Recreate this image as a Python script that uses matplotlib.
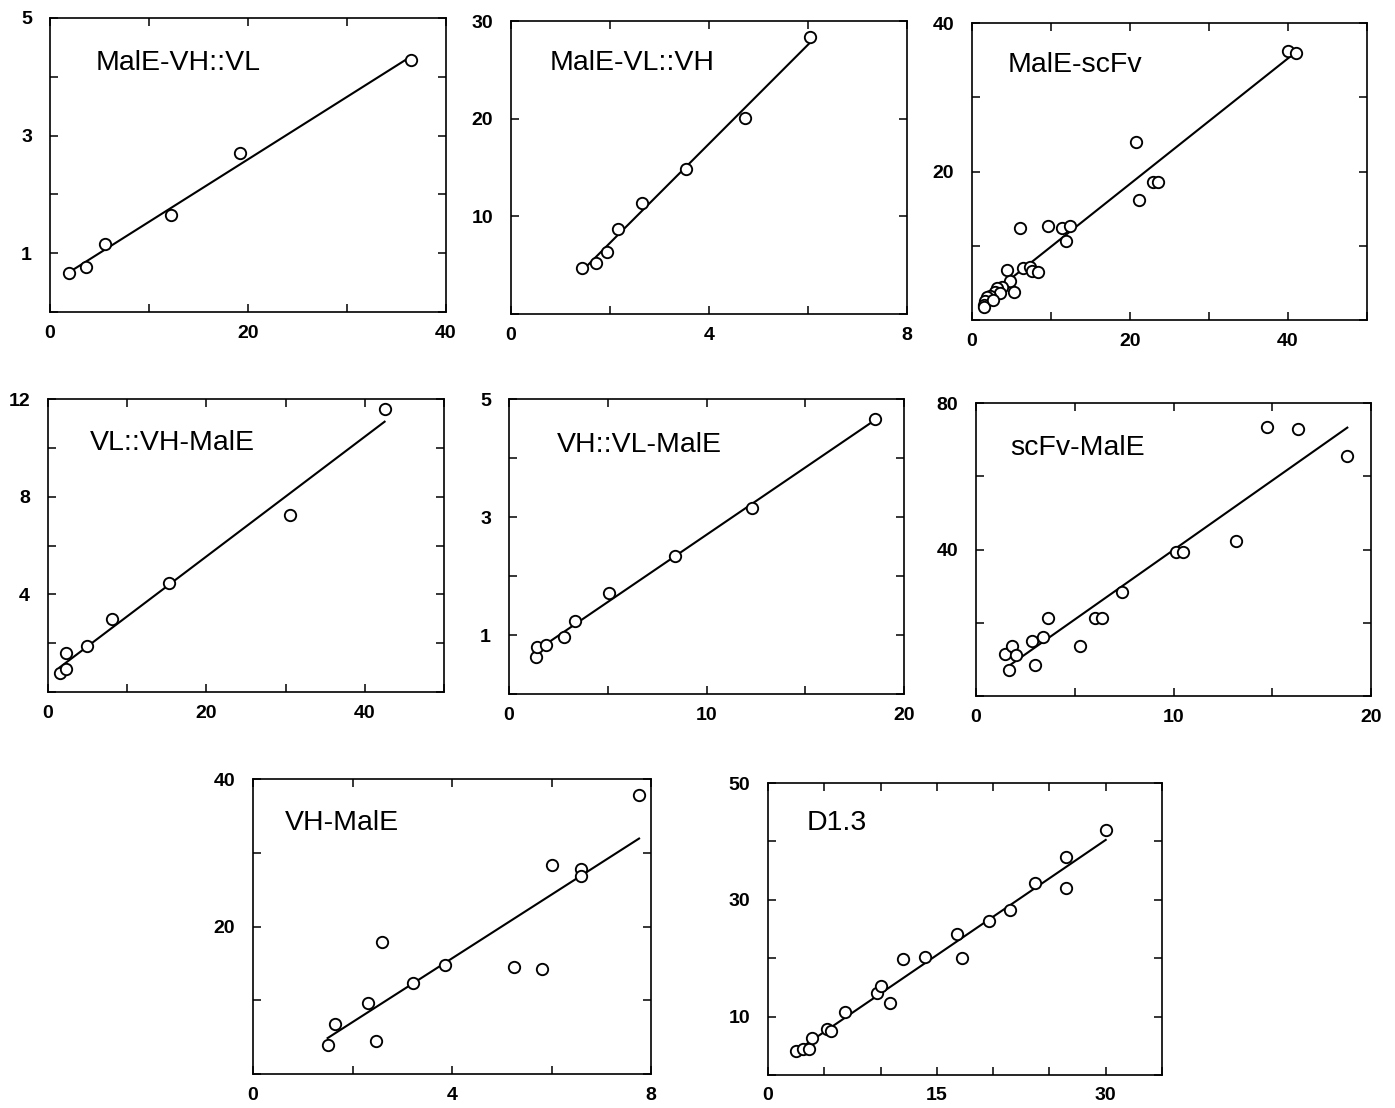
import numpy as np
import matplotlib
matplotlib.use("Agg")
import matplotlib.pyplot as plt

plt.rcParams['font.family'] = ['Liberation Sans', 'DejaVu Sans']

W, H = 1395, 1108

# ---------------- data ----------------
titles = ["MalE-VH::VL", "MalE-VL::VH", "MalE-scFv",
          "VL::VH-MalE", "VH::VL-MalE", "scFv-MalE",
          "VH-MalE", "D1.3"]

p1_x = [1.9, 3.6, 5.6, 12.2, 19.2, 36.5]
p1_y = [0.66, 0.77, 1.15, 1.65, 2.71, 4.28]

p2_x = [1.44, 1.71, 1.93, 2.17, 2.65, 3.53, 4.72, 6.05]
p2_y = [4.75, 5.26, 6.38, 8.75, 11.36, 14.85, 20.1, 28.4]

p3_x = [39.96, 41.05, 20.8, 21.1, 22.9, 23.5, 6.1, 9.6, 11.4, 12.4, 11.9,
        4.4, 6.5, 7.4, 7.6, 8.4, 4.8, 5.3, 3.8, 3.2, 2.9, 3.6, 2.3, 1.9,
        1.7, 1.5, 1.55, 2.7]
p3_y = [36.2, 36.0, 24.0, 16.2, 18.65, 18.65, 12.4, 12.7, 12.4, 12.7, 10.6,
        6.8, 7.0, 7.2, 6.6, 6.5, 5.2, 3.8, 4.5, 4.3, 3.8, 3.7, 3.2, 3.1,
        2.6, 2.0, 1.7, 2.7]

p4_x = [1.47, 2.3, 2.3, 4.9, 8.05, 15.3, 30.5, 42.5]
p4_y = [0.76, 0.94, 1.58, 1.9, 2.98, 4.48, 7.25, 11.6]

p5_x = [1.35, 1.40, 1.86, 2.81, 3.35, 5.08, 8.43, 12.3, 18.55]
p5_y = [0.63, 0.80, 0.83, 0.97, 1.23, 1.72, 2.34, 3.16, 4.66]

p6_x = [1.46, 1.84, 2.0, 1.67, 2.85, 3.0, 3.38, 3.64, 5.25, 6.05, 6.38,
        7.39, 10.13, 10.5, 13.17, 14.75, 16.28, 18.8]
p6_y = [11.4, 13.6, 11.2, 7.1, 15.1, 8.5, 16.2, 21.4, 13.7, 21.4, 21.2,
        28.5, 39.4, 39.4, 42.4, 73.5, 72.8, 65.5]

p7_x = [1.50, 1.65, 2.32, 2.48, 2.59, 3.21, 3.85, 5.24, 5.80, 6.01, 6.60,
        6.60, 7.76]
p7_y = [3.95, 6.8, 9.6, 4.5, 17.95, 12.3, 14.8, 14.5, 14.2, 28.3, 27.8,
        26.9, 37.8]

p8_x = [2.45, 3.13, 3.63, 3.93, 5.26, 5.6, 6.8, 9.7, 10.06, 10.8, 11.98,
        13.95, 16.8, 17.2, 19.65, 21.5, 23.75, 26.5, 26.5, 30.0]
p8_y = [4.05, 4.5, 4.5, 6.3, 7.9, 7.45, 10.85, 14.0, 15.3, 12.3, 19.8,
        20.2, 24.2, 19.97, 26.3, 28.3, 32.8, 37.4, 32.1, 41.9]

xs = [p1_x, p2_x, p3_x, p4_x, p5_x, p6_x, p7_x, p8_x]
ys = [p1_y, p2_y, p3_y, p4_y, p5_y, p6_y, p7_y, p8_y]

# axis limits, tick positions and labelled ticks
xlims = [(0, 40), (0, 8), (0, 50), (0, 50), (0, 20), (0, 20), (0, 8), (0, 35)]
ylims = [(0, 5), (0, 30), (0, 40), (0, 12), (0, 5), (0, 80), (0, 40), (0, 50)]
xtick_step = [10, 2, 10, 10, 5, 5, 2, 5]
ytick_step = [1, 10, 10, 2, 1, 20, 10, 10]
xtick_labels = [[0, 20, 40], [0, 4, 8], [0, 20, 40], [0, 20, 40],
                [0, 10, 20], [0, 10, 20], [0, 4, 8], [0, 15, 30]]
ytick_labels = [[1, 3, 5], [10, 20, 30], [20, 40], [4, 8, 12],
                [1, 3, 5], [40, 80], [20, 40], [10, 30, 50]]

# ---------------- layout (pixels: left, top, right, bottom) ----------------
boxes = [(50, 18, 446, 312), (511, 21, 907, 314), (972, 23, 1367, 320),
         (48, 399, 444, 692), (509, 399, 904, 694), (976, 403, 1371, 696),
         (253, 779, 651, 1074), (768, 783, 1162, 1075)]
title_pos = [(0.114, 0.847), (0.098, 0.857), (0.091, 0.86), (0.106, 0.85),
             (0.12, 0.844), (0.086, 0.846), (0.08, 0.85), (0.098, 0.863)]

fig = plt.figure(figsize=(W / 100, H / 100), dpi=100)

for i in range(8):
    l, t, r, b = boxes[i]
    ax = fig.add_axes([l / W, 1 - b / H, (r - l) / W, (b - t) / H])
    x = np.array(xs[i])
    y = np.array(ys[i])
    k, c = np.polyfit(x, y, 1)
    xl = np.array([x.min(), x.max()])
    ax.plot(xl, k * xl + c, color='black', lw=1.5, zorder=2)
    ax.plot(x, y, linestyle='none', marker='o', markersize=8.2,
            markerfacecolor='white', markeredgecolor='black',
            markeredgewidth=1.35, zorder=3)
    ax.set_xlim(*xlims[i])
    ax.set_ylim(*ylims[i])
    xt = np.arange(xlims[i][0], xlims[i][1] + 1e-9, xtick_step[i])
    yt = np.arange(ylims[i][0], ylims[i][1] + 1e-9, ytick_step[i])
    ax.set_xticks(xt)
    ax.set_yticks(yt)
    ax.set_xticklabels([str(int(v)) if int(v) in xtick_labels[i] else ''
                        for v in xt])
    ax.set_yticklabels([str(int(v)) if int(v) in ytick_labels[i] else ''
                        for v in yt])
    ax.tick_params(axis='both', direction='in', top=True, right=True,
                   length=6, width=1.1, labelsize=14)
    ax.tick_params(axis='x', pad=9)
    ax.tick_params(axis='y', pad=13)
    for lab in ax.get_xticklabels() + ax.get_yticklabels():
        lab.set_fontweight('bold')
    for sp in ax.spines.values():
        sp.set_linewidth(1.2)
    ax.text(title_pos[i][0], title_pos[i][1], titles[i],
            transform=ax.transAxes, fontsize=20.5, ha='left', va='center')

fig.savefig("out.png", dpi=100, facecolor='white')
